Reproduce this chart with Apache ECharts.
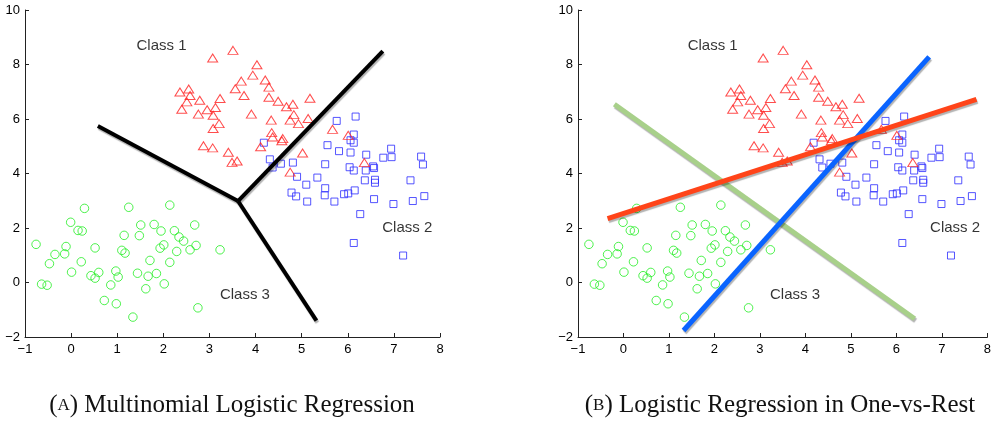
<!DOCTYPE html>
<html>
<head>
<meta charset="utf-8">
<script src="https://cdn.jsdelivr.net/npm/echarts@6/dist/echarts.min.js"></script>
<style>
  html, body { margin: 0; padding: 0; background: #fff; }
  #chart { width: 994px; height: 424px; }
</style>
</head>
<body>
<div id="chart"></div>
<script>
// axis ticks
const xTicks = [-1, 0, 1, 2, 3, 4, 5, 6, 7, 8];
const yTicks = [-2, 0, 2, 4, 6, 8, 10];

// Class 1 - red triangles
const class1Points = [
  [3.51, 8.52], [3.07, 8.24], [4.03, 7.99], [3.94, 7.61], [3.69, 7.39], [4.21, 7.43],
  [3.56, 7.11], [4.29, 7.17], [2.36, 6.99], [2.55, 7.10], [2.58, 6.86], [2.79, 6.69],
  [2.51, 6.63], [3.23, 6.75], [3.75, 6.86], [4.29, 6.80], [4.49, 6.65], [4.81, 6.54],
  [4.67, 6.45], [5.18, 6.76], [2.40, 6.36], [2.76, 6.18], [2.95, 6.34], [3.13, 6.42],
  [3.08, 6.14], [3.91, 6.18], [4.83, 6.16], [5.14, 6.02], [4.34, 5.96], [4.75, 5.96],
  [4.93, 5.83], [3.21, 5.83], [3.08, 5.65], [5.67, 5.62], [4.35, 5.50], [4.37, 5.34],
  [4.59, 5.28], [4.57, 5.20], [6.01, 5.40], [2.87, 5.02], [3.07, 4.94], [4.11, 4.98],
  [3.41, 4.78], [5.02, 4.75], [3.49, 4.41], [3.60, 4.46], [6.36, 4.40], [4.75, 4.05]
];

// Class 2 - blue squares
const class2Points = [
  [5.76, 5.93], [6.17, 6.09], [6.13, 5.43], [6.06, 5.22], [6.13, 5.13], [4.18, 5.13],
  [5.56, 5.04], [5.81, 4.82], [6.06, 4.77], [6.40, 4.69], [6.94, 4.91], [6.77, 4.58],
  [6.95, 4.60], [7.59, 4.62], [7.63, 4.33], [4.31, 4.52], [4.37, 4.22], [4.55, 4.36],
  [4.81, 4.40], [5.51, 4.34], [6.04, 4.23], [6.13, 4.11], [6.39, 4.11], [6.55, 4.26],
  [6.57, 4.20], [4.90, 3.88], [5.34, 3.85], [6.37, 3.75], [6.59, 3.77], [6.59, 3.66],
  [7.36, 3.75], [5.10, 3.59], [4.78, 3.30], [4.88, 3.16], [5.51, 3.46], [5.50, 3.20],
  [5.12, 2.97], [5.71, 2.97], [5.92, 3.24], [6.01, 3.27], [6.15, 3.38], [6.57, 3.06],
  [6.99, 2.88], [7.41, 2.99], [7.66, 3.17], [6.27, 2.51], [6.13, 1.45], [7.20, 0.99]
];

// Class 3 - green circles
const class3Points = [
  [-0.76, 1.40], [-0.64, -0.06], [-0.52, -0.10], [-0.47, 0.69], [-0.35, 1.03], [-0.14, 1.05],
  [-0.11, 1.32], [-0.01, 2.21], [0.01, 0.38], [0.15, 1.91], [0.24, 1.89], [0.22, 0.76],
  [0.29, 2.72], [0.43, 0.25], [0.52, 1.27], [0.52, 0.16], [0.60, 0.37], [0.72, -0.66],
  [0.86, -0.09], [0.97, 0.42], [0.98, -0.78], [1.02, 0.20], [1.10, 1.18], [1.17, 1.08],
  [1.15, 1.73], [1.25, 2.76], [1.34, -1.27], [1.44, 0.34], [1.48, 1.72], [1.51, 2.11],
  [1.62, -0.23], [1.67, 0.23], [1.71, 0.81], [1.80, 2.13], [1.85, 0.33], [1.93, 1.26],
  [1.95, 1.89], [2.01, 1.38], [2.02, -0.05], [2.14, 2.84], [2.14, 0.74], [2.24, 1.90],
  [2.29, 1.14], [2.34, 1.67], [2.44, 1.52], [2.58, 1.20], [2.68, 2.11], [2.71, 1.36],
  [2.75, -0.93], [3.23, 1.20]
];

// multinomial decision boundaries (three arms from the junction)
const junction = [3.62, 2.99];
const armLeft = [[0.58, 5.74], junction];
const armUp = [junction, [6.76, 8.49]];
const armDown = [junction, [5.32, -1.40]];

// one-vs-rest boundaries
const ovrClass3 = [[-0.20, 6.54], [6.40, -1.33]];
const ovrClass1 = [[-0.35, 2.34], [7.76, 6.72]];
const ovrClass2 = [[1.32, -1.76], [6.72, 8.28]];

const classLabels = [[1.96, 8.68, 'Class 1'], [7.29, 2.02, 'Class 2'], [3.77, -0.44, 'Class 3']];

var chart = echarts.init(document.getElementById('chart'));

const tickFont = { color: '#000', fontSize: 13, fontFamily: 'Liberation Sans, Arial, sans-serif' };
const minus = v => String(v).replace('-', '\u2212');

function xAxisFor(g) {
  return {
    gridIndex: g, type: 'value', min: xTicks[0], max: xTicks[xTicks.length - 1], interval: 1,
    axisLine: { onZero: false, lineStyle: { color: '#222', width: 1 } },
    axisTick: { inside: true, length: 4, lineStyle: { color: '#222' } },
    axisLabel: Object.assign({ margin: 6, formatter: minus, showMinLabel: true, showMaxLabel: true }, tickFont),
    splitLine: { show: false }
  };
}
function yAxisFor(g) {
  return {
    gridIndex: g, type: 'value', min: yTicks[0], max: yTicks[yTicks.length - 1], interval: 2,
    axisLine: { show: true, onZero: false, lineStyle: { color: '#222', width: 1 } },
    axisTick: { show: true, inside: true, length: 4, lineStyle: { color: '#222' } },
    axisLabel: Object.assign({ margin: 5, formatter: minus, showMinLabel: true, showMaxLabel: true }, tickFont),
    splitLine: { show: false }
  };
}

function pointSeries(g) {
  return [
    {
      type: 'scatter', xAxisIndex: g, yAxisIndex: g, data: class3Points,
      symbol: 'circle', symbolSize: 8.5,
      itemStyle: { color: 'transparent', borderColor: '#22ee22', borderWidth: 1 }
    },
    {
      type: 'scatter', xAxisIndex: g, yAxisIndex: g, data: class2Points,
      symbol: 'rect', symbolSize: 7,
      itemStyle: { color: 'transparent', borderColor: '#2a2aff', borderWidth: 1 }
    },
    {
      type: 'scatter', xAxisIndex: g, yAxisIndex: g, data: class1Points,
      symbol: 'triangle', symbolSize: [10, 8],
      itemStyle: { color: 'transparent', borderColor: '#ff2020', borderWidth: 1 }
    },
    {
      type: 'scatter', xAxisIndex: g, yAxisIndex: g, data: classLabels,
      symbolSize: 1, itemStyle: { color: 'transparent' }, z: 5,
      label: {
        show: true, position: 'inside', formatter: p => p.value[2],
        color: '#000', fontSize: 15, fontFamily: 'Liberation Sans, Arial, sans-serif'
      }
    }
  ];
}

function lineSeries(g, data, color, width) {
  return {
    type: 'line', xAxisIndex: g, yAxisIndex: g, data: data, symbol: 'none', z: 4,
    lineStyle: {
      color: color, width: width, cap: 'butt',
      shadowColor: 'rgba(0,0,0,0.3)', shadowBlur: 1, shadowOffsetX: 1, shadowOffsetY: 2
    }
  };
}

const capStyle = {
  fontWeight: 'normal',
  rich: {
    p: { fontSize: 25, fontWeight: 'normal', fontFamily: 'Liberation Serif, serif', color: '#111' },
    sc: { fontSize: 17, fontWeight: 'normal', fontFamily: 'Liberation Serif, serif', color: '#111' }
  }
};

var option = {
  animation: false,
  backgroundColor: '#fff',
  title: [
    {
      left: 227, top: 388, textAlign: 'center',
      text: '{p|(}{sc|A}{p|) Multinomial Logistic Regression}',
      textStyle: capStyle
    },
    {
      left: 775, top: 388, textAlign: 'center',
      text: '{p|(}{sc|B}{p|) Logistic Regression in One-vs-Rest}',
      textStyle: capStyle
    }
  ],
  grid: [
    { left: 25, top: 10, width: 415, height: 327 },
    { left: 578, top: 10, width: 415, height: 327 }
  ],
  xAxis: [xAxisFor(0), xAxisFor(1)],
  yAxis: [yAxisFor(0), yAxisFor(1)],
  series: [].concat(
    pointSeries(0),
    [
      lineSeries(0, armLeft, '#000', 4),
      lineSeries(0, armUp, '#000', 4),
      lineSeries(0, armDown, '#000', 4)
    ],
    pointSeries(1),
    [
      lineSeries(1, ovrClass3, '#a8d08a', 5),
      lineSeries(1, ovrClass2, '#0a64ff', 5),
      lineSeries(1, ovrClass1, '#ff4419', 5)
    ]
  )
};

chart.setOption(option);
window.addEventListener('resize', chart.resize);
</script>
</body>
</html>
